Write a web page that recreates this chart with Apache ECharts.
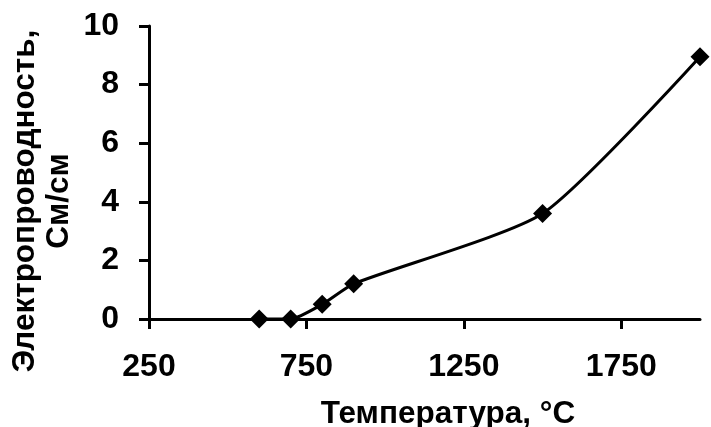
<!DOCTYPE html>
<html>
<head>
<meta charset="utf-8">
<script src="https://cdn.jsdelivr.net/npm/echarts@6/dist/echarts.min.js"></script>
<style>
html,body{margin:0;padding:0;background:#fff;}
#chart{width:711px;height:427px;}
</style>
</head>
<body>
<div id="chart"></div>
<script>
// Data
var temperatures = [600, 700, 800, 900, 1500, 2000];
var conductivity = [0, 0, 0.5, 1.2, 3.6, 8.95];
var xTicks = [250, 750, 1250, 1750];
var yTicks = [0, 2, 4, 6, 8, 10];
var xTitle = 'Температура, °C';
var yTitle = 'Электропроводность,\nСм/см';

var FONT = '"Liberation Sans", Arial, sans-serif';
var chart = echarts.init(document.getElementById('chart'), null, {renderer: 'canvas'});
var points = temperatures.map(function (t, i) { return [t, conductivity[i]]; });
function plain(v) { return String(v); }

chart.setOption({
  animation: false,
  backgroundColor: '#ffffff',
  grid: {left: 149, right: 11, top: 26, bottom: 108, containLabel: false, outerBoundsMode: 'none'},
  xAxis: {
    type: 'value', min: 250, max: 2000, interval: 500,
    axisLine: {show: true, onZero: false, lineStyle: {color: '#000', width: 3}},
    axisTick: {show: true, inside: false, length: 10, lineStyle: {color: '#000', width: 3}, customValues: xTicks},
    axisLabel: {show: true, margin: 32, color: '#000', fontFamily: FONT, fontWeight: 'bold', fontSize: 32, customValues: xTicks, formatter: plain},
    splitLine: {show: false}
  },
  yAxis: {
    type: 'value', min: 0, max: 10, interval: 2,
    axisLine: {show: true, lineStyle: {color: '#000', width: 3}},
    axisTick: {show: true, inside: false, length: 10, lineStyle: {color: '#000', width: 3}, customValues: yTicks},
    axisLabel: {show: true, margin: 30, color: '#000', fontFamily: FONT, fontWeight: 'bold', fontSize: 32, customValues: yTicks, formatter: plain},
    splitLine: {show: false}
  },
  graphic: [
    {type: 'text', x: 448, y: 414, silent: true,
     style: {text: xTitle, font: 'bold 31.5px ' + FONT, fill: '#000', align: 'center', verticalAlign: 'middle'}},
    {type: 'text', x: 42, y: 201, rotation: Math.PI / 2, silent: true,
     style: {text: yTitle, font: 'bold 31.5px ' + FONT, fill: '#000', align: 'center', verticalAlign: 'middle', lineHeight: 34}}
  ],
  series: [{
    type: 'line',
    data: points,
    smooth: 0.2,
    clip: false,
    symbol: 'diamond',
    symbolSize: 19,
    showAllSymbol: true,
    itemStyle: {color: '#000', borderColor: '#000', borderWidth: 0},
    lineStyle: {color: '#000', width: 3},
    emphasis: {disabled: true}
  }]
});
</script>
</body>
</html>
